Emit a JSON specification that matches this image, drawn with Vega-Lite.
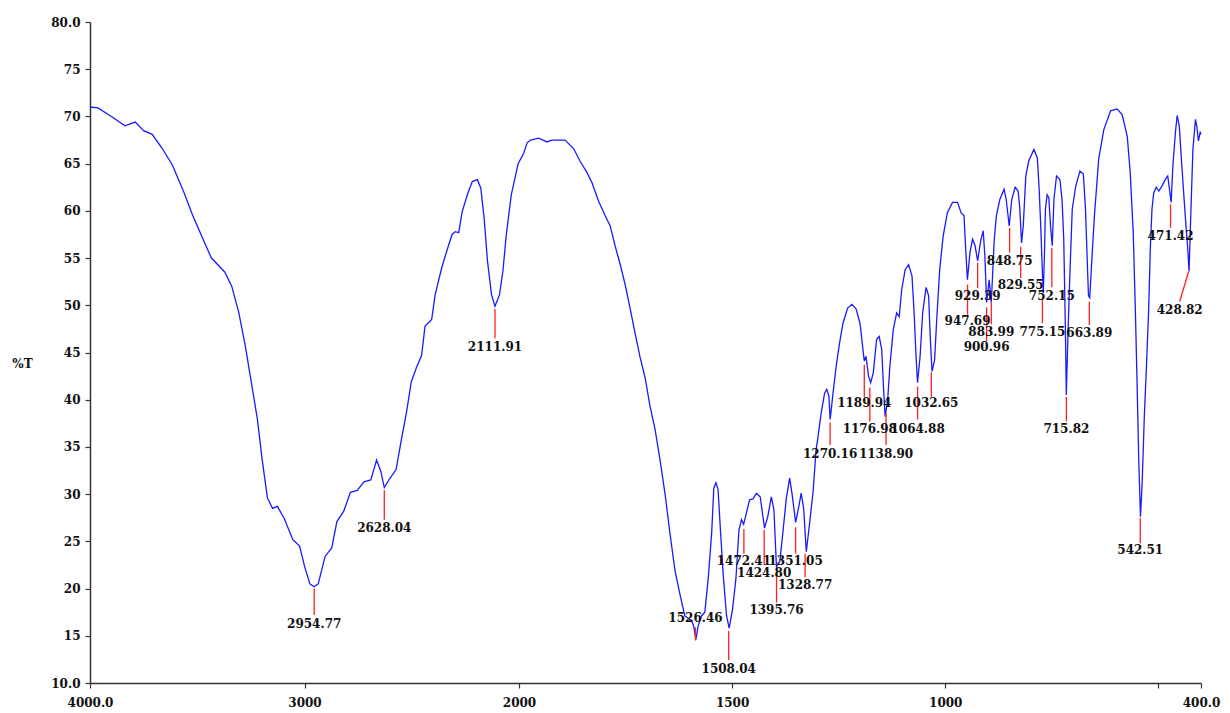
{
  "$schema": "https://vega.github.io/schema/vega-lite/v6.json",
  "width": 1111,
  "height": 661,
  "autosize": {"type": "none"},
  "padding": {"left": 90, "top": 22, "right": 29, "bottom": 30},
  "background": "white",
  "config": {
    "view": {"stroke": null},
    "axis": {
      "domainColor": "#333",
      "domainWidth": 1.5,
      "tickColor": "#333",
      "tickWidth": 1.2,
      "tickSize": 5,
      "grid": false,
      "labelFont": "DejaVu Serif",
      "labelFontWeight": "bold",
      "labelFontSize": 12,
      "labelColor": "#111",
      "titleFont": "DejaVu Serif",
      "titleFontWeight": "bold",
      "titleColor": "#111"
    }
  },
  "datasets": {
    "spectrum": [
      {"wn": 4000, "t": 71.0}, {"wn": 3963, "t": 70.9}, {"wn": 3900, "t": 70.0}, {"wn": 3837, "t": 69.0},
      {"wn": 3789, "t": 69.4}, {"wn": 3750, "t": 68.5}, {"wn": 3710, "t": 68.1}, {"wn": 3663, "t": 66.6},
      {"wn": 3615, "t": 64.8}, {"wn": 3568, "t": 62.3}, {"wn": 3521, "t": 59.5}, {"wn": 3473, "t": 57.0},
      {"wn": 3434, "t": 55.0}, {"wn": 3371, "t": 53.5}, {"wn": 3339, "t": 52.0}, {"wn": 3307, "t": 49.3},
      {"wn": 3276, "t": 45.7}, {"wn": 3244, "t": 41.3}, {"wn": 3220, "t": 38.0}, {"wn": 3197, "t": 33.6},
      {"wn": 3173, "t": 29.6}, {"wn": 3149, "t": 28.5}, {"wn": 3126, "t": 28.7}, {"wn": 3094, "t": 27.4},
      {"wn": 3055, "t": 25.2}, {"wn": 3023, "t": 24.5}, {"wn": 2999, "t": 22.3}, {"wn": 2975, "t": 20.5},
      {"wn": 2955, "t": 20.2}, {"wn": 2936, "t": 20.5}, {"wn": 2904, "t": 23.4}, {"wn": 2873, "t": 24.3},
      {"wn": 2849, "t": 27.1}, {"wn": 2817, "t": 28.2}, {"wn": 2786, "t": 30.2}, {"wn": 2754, "t": 30.4},
      {"wn": 2723, "t": 31.3}, {"wn": 2691, "t": 31.5}, {"wn": 2664, "t": 33.6}, {"wn": 2644, "t": 32.4},
      {"wn": 2628, "t": 30.7}, {"wn": 2604, "t": 31.6}, {"wn": 2573, "t": 32.6}, {"wn": 2549, "t": 35.7},
      {"wn": 2525, "t": 38.6}, {"wn": 2502, "t": 41.9}, {"wn": 2478, "t": 43.4}, {"wn": 2454, "t": 44.7},
      {"wn": 2438, "t": 47.8}, {"wn": 2407, "t": 48.5}, {"wn": 2391, "t": 51.1}, {"wn": 2360, "t": 54.0},
      {"wn": 2336, "t": 55.8}, {"wn": 2312, "t": 57.5}, {"wn": 2297, "t": 57.8}, {"wn": 2281, "t": 57.7},
      {"wn": 2265, "t": 59.9}, {"wn": 2241, "t": 61.7}, {"wn": 2218, "t": 63.1}, {"wn": 2194, "t": 63.3},
      {"wn": 2178, "t": 62.4}, {"wn": 2162, "t": 59.1}, {"wn": 2147, "t": 54.7}, {"wn": 2128, "t": 51.1},
      {"wn": 2112, "t": 49.9}, {"wn": 2091, "t": 51.1}, {"wn": 2075, "t": 53.6}, {"wn": 2060, "t": 57.3},
      {"wn": 2036, "t": 61.7}, {"wn": 2004, "t": 65.0}, {"wn": 1989, "t": 66.1}, {"wn": 1981, "t": 67.2},
      {"wn": 1973, "t": 67.5}, {"wn": 1954, "t": 67.7}, {"wn": 1934, "t": 67.3}, {"wn": 1923, "t": 67.5},
      {"wn": 1892, "t": 67.5}, {"wn": 1872, "t": 66.6}, {"wn": 1856, "t": 65.2}, {"wn": 1841, "t": 64.1},
      {"wn": 1829, "t": 63.0}, {"wn": 1813, "t": 61.0}, {"wn": 1798, "t": 59.5}, {"wn": 1786, "t": 58.4},
      {"wn": 1774, "t": 56.2}, {"wn": 1763, "t": 54.4}, {"wn": 1751, "t": 52.2}, {"wn": 1739, "t": 49.6},
      {"wn": 1728, "t": 47.1}, {"wn": 1716, "t": 44.5}, {"wn": 1704, "t": 42.3}, {"wn": 1693, "t": 39.4},
      {"wn": 1681, "t": 36.9}, {"wn": 1669, "t": 33.6}, {"wn": 1657, "t": 29.9}, {"wn": 1646, "t": 25.9},
      {"wn": 1634, "t": 21.9}, {"wn": 1622, "t": 19.3}, {"wn": 1611, "t": 17.1}, {"wn": 1595, "t": 16.6},
      {"wn": 1590, "t": 16.0}, {"wn": 1585, "t": 14.6}, {"wn": 1580, "t": 16.0}, {"wn": 1572, "t": 17.1},
      {"wn": 1564, "t": 17.5}, {"wn": 1556, "t": 21.1}, {"wn": 1548, "t": 25.9}, {"wn": 1543, "t": 30.6},
      {"wn": 1538, "t": 31.2}, {"wn": 1533, "t": 30.5}, {"wn": 1527, "t": 25.9}, {"wn": 1521, "t": 21.5},
      {"wn": 1513, "t": 17.1}, {"wn": 1507, "t": 15.8}, {"wn": 1499, "t": 17.8}, {"wn": 1491, "t": 21.1},
      {"wn": 1484, "t": 26.2}, {"wn": 1478, "t": 27.3}, {"wn": 1473, "t": 26.8}, {"wn": 1466, "t": 28.1},
      {"wn": 1459, "t": 29.4}, {"wn": 1451, "t": 29.5}, {"wn": 1443, "t": 30.1}, {"wn": 1434, "t": 29.7},
      {"wn": 1424, "t": 26.4}, {"wn": 1416, "t": 27.7}, {"wn": 1408, "t": 29.7}, {"wn": 1402, "t": 28.4},
      {"wn": 1396, "t": 22.3}, {"wn": 1388, "t": 22.9}, {"wn": 1381, "t": 25.9}, {"wn": 1373, "t": 29.5},
      {"wn": 1365, "t": 31.7}, {"wn": 1359, "t": 29.9}, {"wn": 1351, "t": 27.0}, {"wn": 1343, "t": 28.8},
      {"wn": 1338, "t": 30.1}, {"wn": 1332, "t": 28.4}, {"wn": 1326, "t": 23.9}, {"wn": 1318, "t": 27.0},
      {"wn": 1310, "t": 30.3}, {"wn": 1303, "t": 34.7}, {"wn": 1299, "t": 35.9}, {"wn": 1291, "t": 38.6},
      {"wn": 1283, "t": 40.7}, {"wn": 1278, "t": 41.1}, {"wn": 1273, "t": 40.4}, {"wn": 1270, "t": 37.9},
      {"wn": 1264, "t": 40.4}, {"wn": 1256, "t": 43.5}, {"wn": 1248, "t": 46.0}, {"wn": 1240, "t": 48.1},
      {"wn": 1229, "t": 49.7}, {"wn": 1219, "t": 50.1}, {"wn": 1209, "t": 49.6}, {"wn": 1200, "t": 48.1},
      {"wn": 1194, "t": 45.7}, {"wn": 1190, "t": 44.1}, {"wn": 1186, "t": 44.6}, {"wn": 1180, "t": 42.5},
      {"wn": 1175, "t": 41.8}, {"wn": 1169, "t": 42.8}, {"wn": 1161, "t": 46.4}, {"wn": 1155, "t": 46.7},
      {"wn": 1149, "t": 45.3}, {"wn": 1145, "t": 41.4}, {"wn": 1141, "t": 38.2}, {"wn": 1135, "t": 40.0},
      {"wn": 1130, "t": 43.5}, {"wn": 1122, "t": 47.4}, {"wn": 1114, "t": 49.2}, {"wn": 1108, "t": 48.8},
      {"wn": 1102, "t": 51.7}, {"wn": 1094, "t": 53.8}, {"wn": 1086, "t": 54.3}, {"wn": 1078, "t": 53.1},
      {"wn": 1073, "t": 49.2}, {"wn": 1069, "t": 45.0}, {"wn": 1065, "t": 41.8}, {"wn": 1059, "t": 44.6},
      {"wn": 1053, "t": 49.2}, {"wn": 1045, "t": 51.9}, {"wn": 1039, "t": 51.0}, {"wn": 1035, "t": 46.4},
      {"wn": 1031, "t": 43.0}, {"wn": 1025, "t": 44.2}, {"wn": 1020, "t": 48.5}, {"wn": 1013, "t": 53.8},
      {"wn": 1005, "t": 57.3}, {"wn": 995, "t": 59.8}, {"wn": 983, "t": 60.9}, {"wn": 971, "t": 60.9},
      {"wn": 963, "t": 59.8}, {"wn": 956, "t": 59.5}, {"wn": 952, "t": 55.9}, {"wn": 948, "t": 52.7},
      {"wn": 942, "t": 55.6}, {"wn": 936, "t": 57.0}, {"wn": 930, "t": 56.3}, {"wn": 924, "t": 54.7},
      {"wn": 917, "t": 56.8}, {"wn": 911, "t": 57.9}, {"wn": 907, "t": 55.2}, {"wn": 903, "t": 50.3},
      {"wn": 897, "t": 52.7}, {"wn": 892, "t": 50.3}, {"wn": 885, "t": 57.0}, {"wn": 880, "t": 59.5},
      {"wn": 872, "t": 61.2}, {"wn": 862, "t": 62.3}, {"wn": 857, "t": 61.2}, {"wn": 850, "t": 58.4},
      {"wn": 844, "t": 61.2}, {"wn": 836, "t": 62.5}, {"wn": 829, "t": 62.1}, {"wn": 825, "t": 60.2},
      {"wn": 821, "t": 56.6}, {"wn": 817, "t": 58.4}, {"wn": 811, "t": 63.7}, {"wn": 804, "t": 65.3},
      {"wn": 792, "t": 66.5}, {"wn": 784, "t": 65.6}, {"wn": 780, "t": 62.6}, {"wn": 776, "t": 58.4},
      {"wn": 772, "t": 53.4}, {"wn": 770, "t": 51.3}, {"wn": 767, "t": 55.9}, {"wn": 765, "t": 60.2},
      {"wn": 761, "t": 61.7}, {"wn": 757, "t": 61.4}, {"wn": 753, "t": 58.4}, {"wn": 749, "t": 56.3},
      {"wn": 745, "t": 61.2}, {"wn": 739, "t": 63.7}, {"wn": 731, "t": 63.3}, {"wn": 726, "t": 61.2},
      {"wn": 722, "t": 57.0}, {"wn": 718, "t": 47.1}, {"wn": 716, "t": 40.5}, {"wn": 712, "t": 47.1},
      {"wn": 707, "t": 54.1}, {"wn": 702, "t": 60.2}, {"wn": 694, "t": 62.6}, {"wn": 684, "t": 64.2},
      {"wn": 676, "t": 63.9}, {"wn": 671, "t": 60.2}, {"wn": 667, "t": 54.9}, {"wn": 664, "t": 51.0},
      {"wn": 661, "t": 50.8}, {"wn": 657, "t": 54.1}, {"wn": 650, "t": 59.5}, {"wn": 640, "t": 65.5},
      {"wn": 628, "t": 68.6}, {"wn": 612, "t": 70.6}, {"wn": 597, "t": 70.8}, {"wn": 585, "t": 70.2},
      {"wn": 573, "t": 67.9}, {"wn": 566, "t": 64.0}, {"wn": 559, "t": 57.7}, {"wn": 554, "t": 49.5},
      {"wn": 550, "t": 41.8}, {"wn": 546, "t": 33.6}, {"wn": 542, "t": 27.6}, {"wn": 538, "t": 31.2},
      {"wn": 533, "t": 38.2}, {"wn": 528, "t": 43.5}, {"wn": 523, "t": 49.2}, {"wn": 519, "t": 55.9},
      {"wn": 515, "t": 60.2}, {"wn": 511, "t": 61.9}, {"wn": 505, "t": 62.5}, {"wn": 499, "t": 62.1},
      {"wn": 492, "t": 62.6}, {"wn": 484, "t": 63.3}, {"wn": 478, "t": 63.7}, {"wn": 474, "t": 62.3},
      {"wn": 470, "t": 60.9}, {"wn": 466, "t": 64.8}, {"wn": 460, "t": 68.3}, {"wn": 456, "t": 70.1},
      {"wn": 451, "t": 69.0}, {"wn": 445, "t": 64.8}, {"wn": 437, "t": 59.5}, {"wn": 431, "t": 55.9},
      {"wn": 428, "t": 53.6}, {"wn": 424, "t": 59.5}, {"wn": 419, "t": 66.5}, {"wn": 413, "t": 69.7},
      {"wn": 410, "t": 69.0}, {"wn": 406, "t": 67.4}, {"wn": 402, "t": 68.3}, {"wn": 400, "t": 68.1}
    ],
    "peaks": [
      {"label": "2954.77", "wn": 2954.77, "wn2": 2954.77, "t1": 20.0, "t2": 17.2, "lt": 16.3},
      {"label": "2628.04", "wn": 2628.04, "wn2": 2628.04, "t1": 30.4, "t2": 27.3, "lt": 26.4},
      {"label": "2111.91", "wn": 2111.91, "wn2": 2111.91, "t1": 49.6, "t2": 46.5, "lt": 45.6},
      {"label": "1526.46", "wn": 1586, "wn2": 1586, "t1": 15.9, "t2": 14.5, "lt": 16.9},
      {"label": "1508.04", "wn": 1508.04, "wn2": 1508.04, "t1": 15.5, "t2": 12.4, "lt": 11.5},
      {"label": "1472.41", "wn": 1472.41, "wn2": 1472.41, "t1": 26.3, "t2": 23.7, "lt": 22.9},
      {"label": "1424.80", "wn": 1424.8, "wn2": 1424.8, "t1": 26.2, "t2": 22.5, "lt": 21.7},
      {"label": "1395.76", "wn": 1395.76, "wn2": 1395.76, "t1": 22.2, "t2": 18.5, "lt": 17.7},
      {"label": "1351.05", "wn": 1351.05, "wn2": 1351.05, "t1": 26.5, "t2": 23.7, "lt": 22.9},
      {"label": "1328.77", "wn": 1328.77, "wn2": 1328.77, "t1": 23.7, "t2": 21.2, "lt": 20.4},
      {"label": "1270.16", "wn": 1270.16, "wn2": 1270.16, "t1": 37.6, "t2": 35.2, "lt": 34.3},
      {"label": "1189.94", "wn": 1189.94, "wn2": 1189.94, "t1": 43.7, "t2": 40.3, "lt": 39.6},
      {"label": "1176.98", "wn": 1176.98, "wn2": 1176.98, "t1": 41.3, "t2": 37.7, "lt": 36.9},
      {"label": "1138.90", "wn": 1138.9, "wn2": 1138.9, "t1": 38.6, "t2": 35.2, "lt": 34.3},
      {"label": "1064.88", "wn": 1064.88, "wn2": 1064.88, "t1": 41.4, "t2": 37.9, "lt": 36.9},
      {"label": "1032.65", "wn": 1032.65, "wn2": 1032.65, "t1": 42.9, "t2": 40.3, "lt": 39.6},
      {"label": "947.69", "wn": 947.69, "wn2": 947.69, "t1": 52.2, "t2": 49.0, "lt": 48.3},
      {"label": "929.39", "wn": 924, "wn2": 924, "t1": 54.5, "t2": 51.8, "lt": 51.0},
      {"label": "900.96", "wn": 903, "wn2": 903, "t1": 49.8, "t2": 46.2, "lt": 45.6},
      {"label": "883.99", "wn": 892, "wn2": 892, "t1": 50.3, "t2": 48.0, "lt": 47.2},
      {"label": "848.75", "wn": 849, "wn2": 849, "t1": 58.2, "t2": 55.6, "lt": 54.7},
      {"label": "829.55", "wn": 823, "wn2": 823, "t1": 56.2, "t2": 52.9, "lt": 52.2},
      {"label": "775.15", "wn": 772, "wn2": 772, "t1": 50.6, "t2": 48.1, "lt": 47.2},
      {"label": "752.15", "wn": 750, "wn2": 750, "t1": 56.1, "t2": 51.9, "lt": 51.0},
      {"label": "715.82", "wn": 715.82, "wn2": 715.82, "t1": 40.3, "t2": 37.7, "lt": 36.9},
      {"label": "663.89", "wn": 662, "wn2": 662, "t1": 50.4, "t2": 47.9, "lt": 47.1},
      {"label": "542.51", "wn": 542.51, "wn2": 542.51, "t1": 27.5, "t2": 24.8, "lt": 24.1},
      {"label": "471.42", "wn": 471.42, "wn2": 471.42, "t1": 60.7, "t2": 58.2, "lt": 57.3},
      {"label": "428.82", "wn": 428.82, "wn2": 450, "t1": 53.6, "t2": 50.4, "lt": 49.5}
    ]
  },
  "encoding": {
    "x": {
      "field": "wn",
      "type": "quantitative",
      "scale": {"type": "linear", "domain": [4000, 2000, 400], "range": [0, 429, 1111], "nice": false, "zero": false},
      "axis": {
        "title": null,
        "values": [4000, 3000, 2000, 1500, 1000, 500, 400],
        "labelExpr": "datum.value == 4000 ? '4000.0' : datum.value == 400 ? '400.0' : datum.value == 500 ? '' : format(datum.value, 'd')",
        "labelOverlap": false,
        "labelFlush": false,
        "labelPadding": 9
      }
    }
  },
  "layer": [
    {
      "data": {"name": "spectrum"},
      "mark": {"type": "line", "color": "#1a1aff", "strokeWidth": 1.3, "interpolate": "linear"},
      "encoding": {
        "y": {
          "field": "t",
          "type": "quantitative",
          "scale": {"domain": [10, 80], "nice": false, "zero": false},
          "axis": {
            "title": "%T",
            "titleAngle": 0,
            "titleX": -68,
            "titleY": 341,
            "titleAlign": "center",
            "titleBaseline": "middle",
            "titleFontSize": 12,
            "values": [10, 15, 20, 25, 30, 35, 40, 45, 50, 55, 60, 65, 70, 75, 80],
            "labelExpr": "datum.value == 80 ? '80.0' : datum.value == 10 ? '10.0' : datum.label",
            "labelPadding": 5
          }
        }
      }
    },
    {
      "data": {"name": "peaks"},
      "mark": {"type": "rule", "color": "#ff2020", "strokeWidth": 1.3},
      "encoding": {
        "x2": {"field": "wn2"},
        "y": {"field": "t1", "type": "quantitative", "scale": {"domain": [10, 80], "nice": false, "zero": false}},
        "y2": {"field": "t2"}
      }
    },
    {
      "data": {"name": "peaks"},
      "mark": {"type": "text", "font": "DejaVu Serif", "fontWeight": "bold", "fontSize": 12, "color": "#111", "baseline": "middle", "align": "center"},
      "encoding": {
        "x": {"field": "wn2", "type": "quantitative"},
        "y": {"field": "lt", "type": "quantitative", "scale": {"domain": [10, 80], "nice": false, "zero": false}},
        "text": {"field": "label"}
      }
    }
  ]
}
